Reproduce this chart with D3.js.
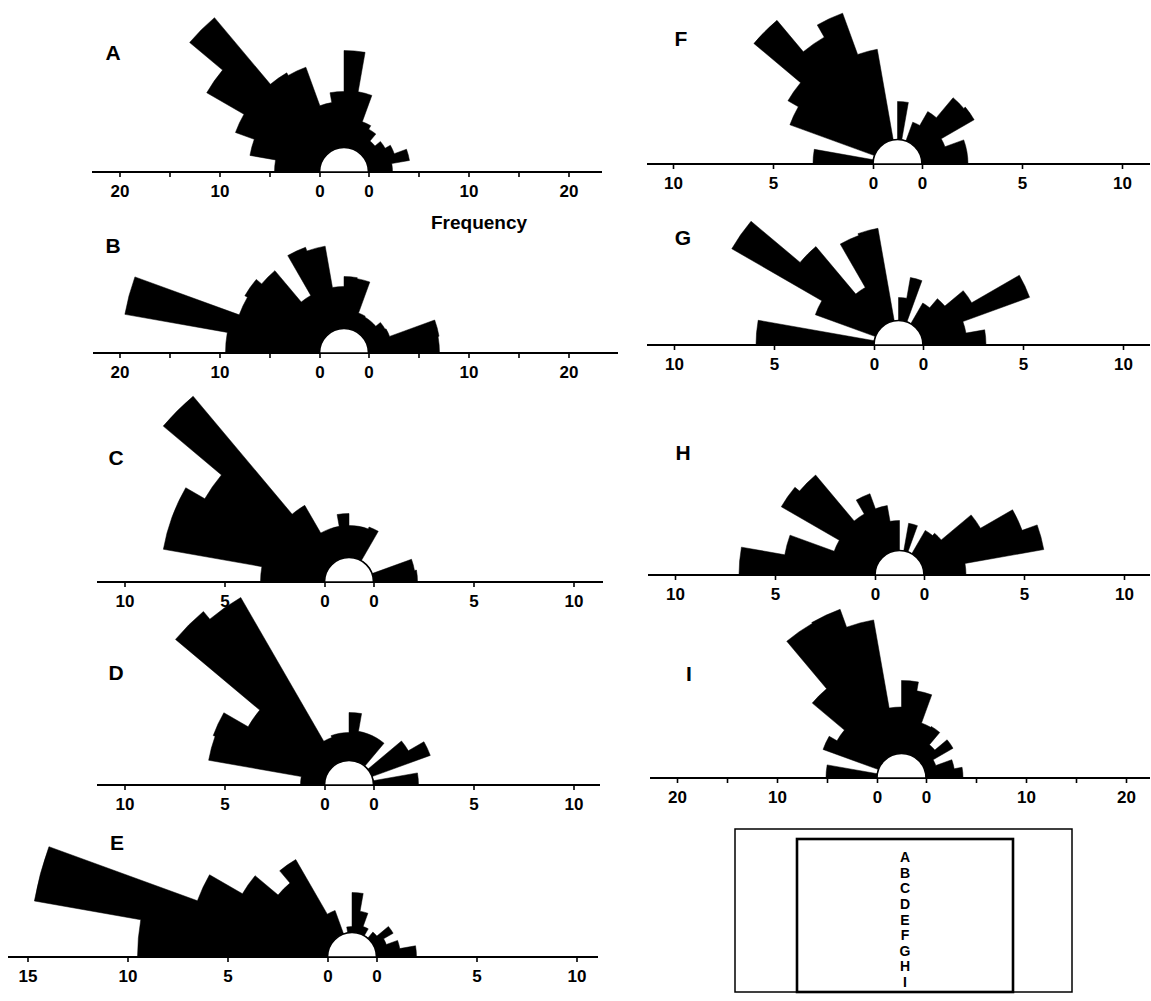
<!DOCTYPE html>
<html>
<head>
<meta charset="utf-8">
<script src="https://cdn.jsdelivr.net/npm/d3@7"></script>
<style>
  body { margin: 0; background: #fff; }
  svg { display: block; }
  text { font-family: "Liberation Sans", Arial, Helvetica, sans-serif; font-weight: bold; fill: #000; }
</style>
</head>
<body>
<div id="chart"></div>
<script>
// bin start angles, degrees counter-clockwise from the right-hand end of the baseline (10 deg bins)
var binStart = [0, 10, 20, 30, 40, 50, 60, 70, 80, 90, 100, 110, 120, 130, 140, 150, 160, 170]
var binWidth = 10

// frequencies per bin, right (0 deg) to left (180 deg)
var countsA = [2.4, 4.2, 2.9, 2.3, 1.6, 2.5, 2.9, 5.7, 9.7, 5.6, 4.6, 8.7, 9.0, 17.7, 13.4, 9.1, 7.1, 4.5]
var countsB = [7.1, 7.2, 2.4, 2.3, 1.7, 1.7, 1.8, 5.1, 5.2, 4.2, 8.4, 8.8, 4.2, 8.3, 9.0, 8.7, 19.8, 9.4]
var countsC = [2.2, 2.1, 0, 0, 0, 0, 1.7, 1.6, 1.6, 2.2, 1.6, 1.6, 3.2, 10.9, 7.1, 8.2, 8.2, 3.2]
var countsD = [2.25, 0, 3.1, 2.2, 0, 1.5, 1.5, 1.5, 2.4, 1.4, 1.4, 1.3, 9.6, 10.1, 4.6, 6.0, 5.9, 1.2]
var countsE = [2.0, 1.2, 0.6, 1.15, 0.4, 0, 0.4, 1.1, 2.0, 0.3, 0, 1.25, 4.4, 3.6, 5.1, 7.0, 14.9, 9.5]
var countsF = [2.3, 2.3, 1.3, 3.2, 3.1, 1.8, 1.0, 0, 1.9, 0, 4.6, 6.8, 6.1, 8.15, 5.1, 4.5, 0, 3.0]
var countsG = [3.15, 2.2, 5.75, 3.0, 1.8, 1.2, 0, 2.2, 1.15, 0, 4.7, 4.6, 2.1, 5.2, 8.4, 3.2, 0, 5.9]
var countsH = [2.1, 6.1, 5.3, 3.45, 1.5, 1.35, 0, 1.4, 0, 1.5, 2.3, 3.1, 2.3, 5.3, 5.6, 2.25, 4.6, 6.8]
var countsI = [3.7, 2.9, 1.2, 3.5, 1.9, 3.5, 3.4, 6.4, 7.3, 4.65, 13.6, 15.5, 15.4, 9.2, 5.0, 5.9, 0, 5.1]

// axis ticks and the ones that carry a label
var ticks20 = [0, 5, 10, 15, 20]
var labels20 = [0, 10, 20]
var ticks10 = [0, 5, 10]
var labels10 = [0, 5, 10]
var ticks15 = [0, 5, 10, 15]
var labels15 = [0, 5, 10, 15]

var insetLetters = ['A', 'B', 'C', 'D', 'E', 'F', 'G', 'H', 'I']

var width = 1151
var height = 1001
var r0 = 24.5

var panels = [
  { name: 'A', counts: countsA, cx: 344, cy: 172, k: 10, x0: 92, x1: 602, tl: ticks20, ll: labels20, tr: ticks20, lr: labels20, lx: 113, ly: 52 },
  { name: 'B', counts: countsB, cx: 344, cy: 353, k: 10, x0: 93, x1: 618, tl: ticks20, ll: labels20, tr: ticks20, lr: labels20, lx: 113, ly: 245 },
  { name: 'C', counts: countsC, cx: 349, cy: 582, k: 20, x0: 97, x1: 603, tl: ticks10, ll: labels10, tr: ticks10, lr: labels10, lx: 116, ly: 457 },
  { name: 'D', counts: countsD, cx: 349, cy: 785, k: 20, x0: 97, x1: 600, tl: ticks10, ll: labels10, tr: ticks10, lr: labels10, lx: 116, ly: 672 },
  { name: 'E', counts: countsE, cx: 352, cy: 957, k: 20, x0: 8, x1: 598, tl: ticks15, ll: labels15, tr: ticks10, lr: labels10, lx: 117, ly: 842 },
  { name: 'F', counts: countsF, cx: 897.5, cy: 164, k: 20, x0: 647, x1: 1150, tl: ticks10, ll: labels10, tr: ticks10, lr: labels10, lx: 681, ly: 38 },
  { name: 'G', counts: countsG, cx: 898.5, cy: 345, k: 20, x0: 647, x1: 1150, tl: ticks10, ll: labels10, tr: ticks10, lr: labels10, lx: 683, ly: 237 },
  { name: 'H', counts: countsH, cx: 899.5, cy: 575, k: 20, x0: 648, x1: 1150, tl: ticks10, ll: labels10, tr: ticks10, lr: labels10, lx: 683, ly: 452 },
  { name: 'I', counts: countsI, cx: 901.5, cy: 778, k: 10, x0: 650, x1: 1150, tl: ticks20, ll: labels20, tr: ticks20, lr: labels20, lx: 689, ly: 673 }
]

var svg = d3
  .select('#chart')
  .append('svg')
  .attr('width', width)
  .attr('height', height)

var toRad = Math.PI / 180

// one closed outline per rose so neighbouring wedges have no seams
function roseOutline(counts, rScale) {
  var p = d3.path()
  p.moveTo(r0, 0)
  binStart.forEach(function (a, i) {
    var r = rScale(counts[i])
    var a0 = -a * toRad
    var a1 = -(a + binWidth) * toRad
    p.lineTo(r * Math.cos(a0), r * Math.sin(a0))
    p.arc(0, 0, r, a0, a1, true)
  })
  p.lineTo(-r0, 0)
  p.arc(0, 0, r0, -Math.PI, 0, false)
  p.closePath()
  return p.toString()
}

panels.forEach(function (p) {
  var g = svg.append('g').attr('class', 'panel-' + p.name)

  // radius scale: frequency -> distance from centre
  var rScale = d3.scaleLinear().domain([0, 10]).range([r0, r0 + 10 * p.k])

  // baseline
  g.append('line')
    .attr('x1', p.x0)
    .attr('x2', p.x1)
    .attr('y1', p.cy)
    .attr('y2', p.cy)
    .attr('stroke', '#000')
    .attr('stroke-width', 2.2)

  var c = g.append('g').attr('transform', 'translate(' + p.cx + ',' + p.cy + ')')

  // wedges
  c.append('path')
    .attr('d', roseOutline(p.counts, rScale))
    .attr('fill', '#000')
    .attr('stroke', '#000')
    .attr('stroke-width', 0.5)
    .attr('stroke-linejoin', 'miter')

  // white inner half circle
  c.append('path')
    .attr('d', d3.arc()({ innerRadius: 0, outerRadius: r0, startAngle: -Math.PI / 2, endAngle: Math.PI / 2 }))
    .attr('fill', '#fff')
    .attr('stroke', '#000')
    .attr('stroke-width', 1.6)

  // left and right frequency axes
  var xl = d3.scaleLinear().domain([0, 10]).range([p.cx - r0, p.cx - r0 - 10 * p.k])
  var xr = d3.scaleLinear().domain([0, 10]).range([p.cx + r0, p.cx + r0 + 10 * p.k])

  var sides = [
    { scale: xl, ticks: p.tl, labels: p.ll },
    { scale: xr, ticks: p.tr, labels: p.lr }
  ]
  sides.forEach(function (s) {
    var ax = g
      .append('g')
      .attr('transform', 'translate(0,' + p.cy + ')')
      .call(
        d3
          .axisBottom(s.scale)
          .tickValues(s.ticks)
          .tickSize(5)
          .tickPadding(8)
          .tickFormat(function (d) {
            return s.labels.indexOf(d) >= 0 ? d : ''
          })
      )
    ax.select('.domain').remove()
    ax.selectAll('.tick line').attr('stroke', '#000').attr('stroke-width', 1.6)
    ax.selectAll('.tick text')
      .attr('font-size', 17)
      .attr('font-family', '"Liberation Sans", Arial, sans-serif')
      .attr('font-weight', 'bold')
      .attr('fill', '#000')
  })

  // panel letter
  g.append('text')
    .attr('x', p.lx)
    .attr('y', p.ly + 7.5)
    .attr('text-anchor', 'middle')
    .attr('font-size', 21)
    .text(p.name)
})

// axis title
svg.append('text')
  .attr('x', 479)
  .attr('y', 229)
  .attr('text-anchor', 'middle')
  .attr('font-size', 19)
  .text('Frequency')

// inset key
svg.append('rect')
  .attr('x', 735)
  .attr('y', 829)
  .attr('width', 337)
  .attr('height', 163)
  .attr('fill', 'none')
  .attr('stroke', '#000')
  .attr('stroke-width', 1.5)

svg.append('rect')
  .attr('x', 797)
  .attr('y', 839)
  .attr('width', 216)
  .attr('height', 153)
  .attr('fill', 'none')
  .attr('stroke', '#000')
  .attr('stroke-width', 2.6)

var yKey = d3.scalePoint().domain(insetLetters).range([857, 982])

svg.append('g')
  .selectAll('text')
  .data(insetLetters)
  .join('text')
  .attr('x', 905)
  .attr('y', function (d) {
    return yKey(d) + 5
  })
  .attr('text-anchor', 'middle')
  .attr('font-size', 14)
  .text(function (d) {
    return d
  })
</script>
</body>
</html>
